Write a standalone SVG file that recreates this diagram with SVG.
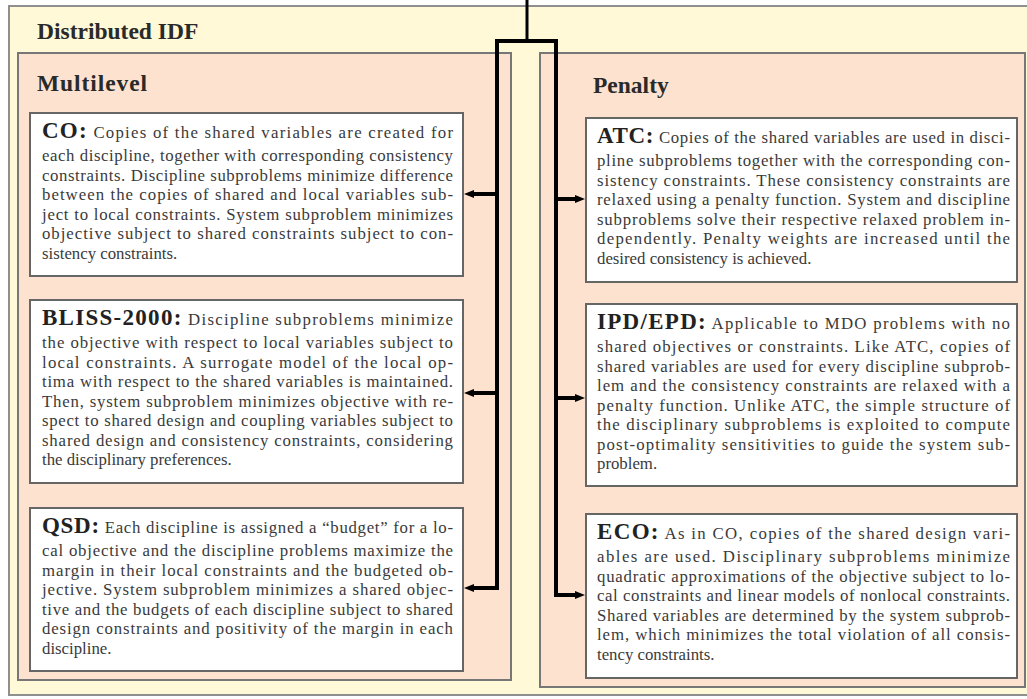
<svg xmlns="http://www.w3.org/2000/svg" width="1027" height="699" viewBox="0 0 1027 699">
<style>
.outer{fill:#fff9d8;stroke:#8f8f8f;stroke-width:2}
.group{fill:#fde3cf;stroke:#777;stroke-width:2}
.box{fill:#fff;stroke:#666;stroke-width:2}
.head{font-family:"Liberation Serif","Times New Roman",serif;font-weight:bold;font-size:23.5px;fill:#2a2a2a}
.lbl{font-family:"Liberation Serif","Times New Roman",serif;font-weight:bold;font-size:23px;fill:#222}
.t{font-family:"Liberation Serif","Times New Roman",serif;font-size:16.8px;fill:#3a3a3a}
.c{fill:none;stroke:#000;stroke-width:4;stroke-linecap:square;stroke-linejoin:miter}
</style>
<defs>
<marker id="arr" viewBox="0 0 10 8" refX="2" refY="4" markerWidth="10" markerHeight="8" markerUnits="userSpaceOnUse" orient="auto">
<path d="M0,0 L10,4 L0,8 z" fill="#000"/>
</marker>
</defs>

<g id="distributed-idf">
<rect class="outer" x="9" y="6" width="1030" height="689"/>
<text class="head" x="37" y="39">Distributed IDF</text>
</g>

<g id="multilevel">
<rect class="group" x="18" y="53" width="493" height="627"/>
<text class="head" x="37" y="91" textLength="110" lengthAdjust="spacing">Multilevel</text>
</g>

<g id="penalty">
<rect class="group" x="540" y="53" width="485" height="634"/>
<text class="head" x="593" y="93">Penalty</text>
</g>

<g id="co">
<rect class="box" x="30" y="113" width="433" height="163"/>
<text class="t" x="42" y="138" textLength="411" lengthAdjust="spacing"><tspan class="lbl">CO:</tspan> Copies of the shared variables are created for</text>
<text class="t" x="42" y="161" textLength="411" lengthAdjust="spacing">each discipline, together with corresponding consistency</text>
<text class="t" x="42" y="180.5" textLength="411" lengthAdjust="spacing">constraints. Discipline subproblems minimize difference</text>
<text class="t" x="42" y="200" textLength="411" lengthAdjust="spacing">between the copies of shared and local variables sub-</text>
<text class="t" x="42" y="219.5" textLength="411" lengthAdjust="spacing">ject to local constraints. System subproblem minimizes</text>
<text class="t" x="42" y="239" textLength="411" lengthAdjust="spacing">objective subject to shared constraints subject to con-</text>
<text class="t" x="42" y="258.5">sistency constraints.</text>
</g>

<g id="bliss-2000">
<rect class="box" x="30" y="300" width="433" height="183"/>
<text class="t" x="42" y="325" textLength="411" lengthAdjust="spacing"><tspan class="lbl">BLISS-2000:</tspan> Discipline subproblems minimize</text>
<text class="t" x="42" y="348" textLength="411" lengthAdjust="spacing">the objective with respect to local variables subject to</text>
<text class="t" x="42" y="367.5" textLength="411" lengthAdjust="spacing">local constraints. A surrogate model of the local op-</text>
<text class="t" x="42" y="387" textLength="411" lengthAdjust="spacing">tima with respect to the shared variables is maintained.</text>
<text class="t" x="42" y="406.5" textLength="411" lengthAdjust="spacing">Then, system subproblem minimizes objective with re-</text>
<text class="t" x="42" y="426" textLength="411" lengthAdjust="spacing">spect to shared design and coupling variables subject to</text>
<text class="t" x="42" y="445.5" textLength="411" lengthAdjust="spacing">shared design and consistency constraints, considering</text>
<text class="t" x="42" y="465">the disciplinary preferences.</text>
</g>

<g id="qsd">
<rect class="box" x="30" y="508" width="433" height="163"/>
<text class="t" x="42" y="533" textLength="411" lengthAdjust="spacing"><tspan class="lbl">QSD:</tspan> Each discipline is assigned a “budget” for a lo-</text>
<text class="t" x="42" y="556" textLength="411" lengthAdjust="spacing">cal objective and the discipline problems maximize the</text>
<text class="t" x="42" y="575.5" textLength="411" lengthAdjust="spacing">margin in their local constraints and the budgeted ob-</text>
<text class="t" x="42" y="595" textLength="411" lengthAdjust="spacing">jective. System subproblem minimizes a shared objec-</text>
<text class="t" x="42" y="614.5" textLength="411" lengthAdjust="spacing">tive and the budgets of each discipline subject to shared</text>
<text class="t" x="42" y="634" textLength="411" lengthAdjust="spacing">design constraints and positivity of the margin in each</text>
<text class="t" x="42" y="653.5">discipline.</text>
</g>

<g id="atc">
<rect class="box" x="586" y="118" width="431" height="164"/>
<text class="t" x="597" y="143" textLength="413" lengthAdjust="spacing"><tspan class="lbl">ATC:</tspan> Copies of the shared variables are used in disci-</text>
<text class="t" x="597" y="166" textLength="413" lengthAdjust="spacing">pline subproblems together with the corresponding con-</text>
<text class="t" x="597" y="185.5" textLength="413" lengthAdjust="spacing">sistency constraints. These consistency constraints are</text>
<text class="t" x="597" y="205" textLength="413" lengthAdjust="spacing">relaxed using a penalty function. System and discipline</text>
<text class="t" x="597" y="224.5" textLength="413" lengthAdjust="spacing">subproblems solve their respective relaxed problem in-</text>
<text class="t" x="597" y="244" textLength="413" lengthAdjust="spacing">dependently. Penalty weights are increased until the</text>
<text class="t" x="597" y="263.5">desired consistency is achieved.</text>
</g>

<g id="ipd-epd">
<rect class="box" x="586" y="304" width="431" height="182"/>
<text class="t" x="597" y="329" textLength="413" lengthAdjust="spacing"><tspan class="lbl">IPD/EPD:</tspan> Applicable to MDO problems with no</text>
<text class="t" x="597" y="352" textLength="413" lengthAdjust="spacing">shared objectives or constraints. Like ATC, copies of</text>
<text class="t" x="597" y="371.5" textLength="413" lengthAdjust="spacing">shared variables are used for every discipline subprob-</text>
<text class="t" x="597" y="391" textLength="413" lengthAdjust="spacing">lem and the consistency constraints are relaxed with a</text>
<text class="t" x="597" y="410.5" textLength="413" lengthAdjust="spacing">penalty function. Unlike ATC, the simple structure of</text>
<text class="t" x="597" y="430" textLength="413" lengthAdjust="spacing">the disciplinary subproblems is exploited to compute</text>
<text class="t" x="597" y="449.5" textLength="413" lengthAdjust="spacing">post-optimality sensitivities to guide the system sub-</text>
<text class="t" x="597" y="469">problem.</text>
</g>

<g id="eco">
<rect class="box" x="586" y="514" width="431" height="164"/>
<text class="t" x="597" y="539" textLength="413" lengthAdjust="spacing"><tspan class="lbl">ECO:</tspan> As in CO, copies of the shared design vari-</text>
<text class="t" x="597" y="562" textLength="413" lengthAdjust="spacing">ables are used. Disciplinary subproblems minimize</text>
<text class="t" x="597" y="581.5" textLength="413" lengthAdjust="spacing">quadratic approximations of the objective subject to lo-</text>
<text class="t" x="597" y="601" textLength="413" lengthAdjust="spacing">cal constraints and linear models of nonlocal constraints.</text>
<text class="t" x="597" y="620.5" textLength="413" lengthAdjust="spacing">Shared variables are determined by the system subprob-</text>
<text class="t" x="597" y="640" textLength="413" lengthAdjust="spacing">lem, which minimizes the total violation of all consis-</text>
<text class="t" x="597" y="659.5">tency constraints.</text>
</g>

<g id="connectors">
<path class="c" style="stroke-width:3;stroke-linecap:butt" d="M527,0 V40"/>
<path class="c" d="M497,41 H556"/>
<path class="c" style="stroke-linecap:butt" d="M497,41 V588 H472" marker-end="url(#arr)"/>
<path class="c" style="stroke-linecap:butt" d="M497,194 H472" marker-end="url(#arr)"/>
<path class="c" style="stroke-linecap:butt" d="M497,393 H472" marker-end="url(#arr)"/>
<path class="c" style="stroke-linecap:butt" d="M556,41 V595 H577" marker-end="url(#arr)"/>
<path class="c" style="stroke-linecap:butt" d="M556,199 H577" marker-end="url(#arr)"/>
<path class="c" style="stroke-linecap:butt" d="M556,398 H577" marker-end="url(#arr)"/>
</g>
</svg>
